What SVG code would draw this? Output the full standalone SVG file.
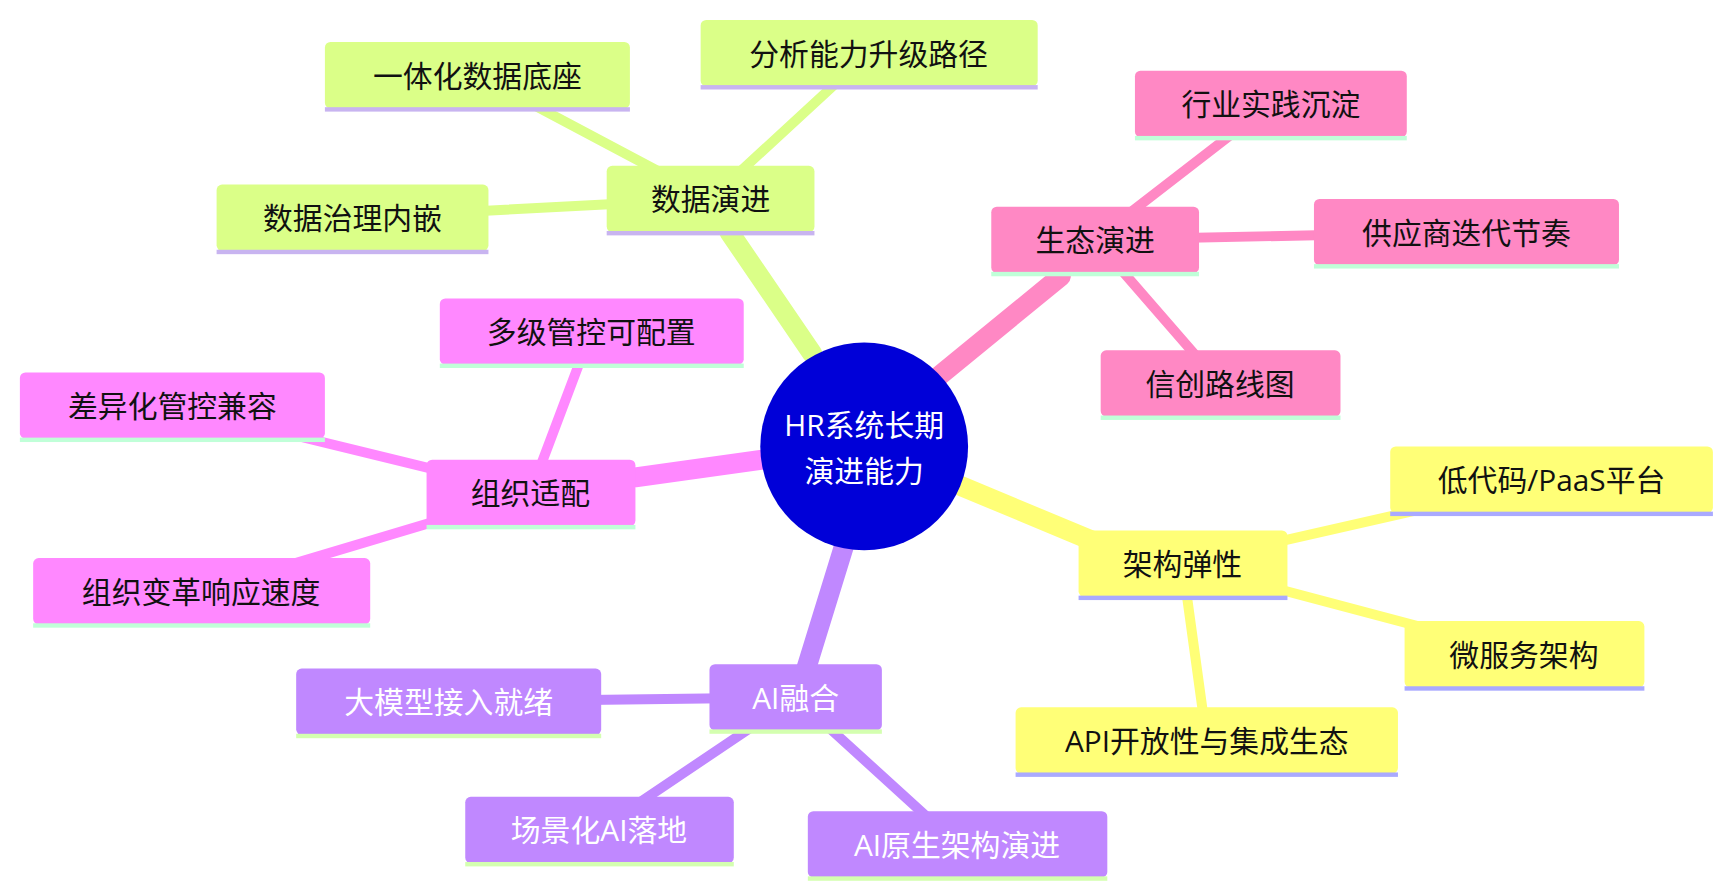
<svg xmlns="http://www.w3.org/2000/svg" width="1724" height="894" viewBox="0 0 1724 894">
<style>
text{font-family:"Open Sans","Noto Sans CJK SC",sans-serif;font-size:27px;text-anchor:middle;dominant-baseline:central;fill:#111}
.w{fill:#fff}
.g{fill:#dbff88}.p{fill:#ff88c4}.y{fill:#ffff77}.v{fill:#c088ff}.m{fill:#ff88ff}
</style>
<rect width="1724" height="894" fill="#fff"/>
<g transform="scale(1.1051)">
<g id="connectors" fill="none" stroke-linecap="round">
<g stroke="#dbff88"><path d="M735 320L660 210" stroke-width="18"/><path d="M643 180L432 68M643 180L786 48M643 180L319 197" stroke-width="9"/></g>
<g stroke="#ff88c4"><path d="M850 340L960 250" stroke-width="18"/><path d="M991 217L1150 94M991 217L1327 210M991 217L1104 347" stroke-width="9"/></g>
<g stroke="#ffff77"><path d="M870 440L990 490" stroke-width="18"/><path d="M1070 510L1404 434M1070 510L1379 592M1070 510L1092 670" stroke-width="9"/></g>
<g stroke="#c088ff"><path d="M765 490L728 610" stroke-width="18"/><path d="M720 631L406 635M720 631L542 751M720 631L866 764" stroke-width="9"/></g>
<g stroke="#ff88ff"><path d="M690 416L575 432" stroke-width="18"/><path d="M480 446L535 300M480 446L156 367M480 446L182 535" stroke-width="9"/></g>
</g>
<g id="center"><circle cx="782" cy="404" r="94" fill="#0000d8"/><text class="w" x="782" y="384" font-size="25">HR系统长期</text><text class="w" x="782" y="426" font-size="25">演进能力</text></g>
<g id="n1"><rect class="g" x="549" y="150" width="188" height="60" rx="5"/><rect x="549" y="209" width="188" height="4" fill="#c8b4f0"/><text x="643" y="180">数据演进</text></g>
<g id="n11"><rect class="g" x="294" y="38" width="276" height="60" rx="5"/><rect x="294" y="97" width="276" height="4" fill="#c8b4f0"/><text x="432" y="68">一体化数据底座</text></g>
<g id="n12"><rect class="g" x="634" y="18" width="305" height="60" rx="5"/><rect x="634" y="77" width="305" height="4" fill="#c8b4f0"/><text x="786" y="48">分析能力升级路径</text></g>
<g id="n13"><rect class="g" x="196" y="167" width="246" height="60" rx="5"/><rect x="196" y="226" width="246" height="4" fill="#c8b4f0"/><text x="319" y="197">数据治理内嵌</text></g>
<g id="n2"><rect class="p" x="897" y="187" width="188" height="60" rx="5"/><rect x="897" y="246" width="188" height="4" fill="#c0ffd8"/><text x="991" y="217">生态演进</text></g>
<g id="n21"><rect class="p" x="1027" y="64" width="246" height="60" rx="5"/><rect x="1027" y="123" width="246" height="4" fill="#c0ffd8"/><text x="1150" y="94">行业实践沉淀</text></g>
<g id="n22"><rect class="p" x="1189" y="180" width="276" height="60" rx="5"/><rect x="1189" y="239" width="276" height="4" fill="#c0ffd8"/><text x="1327" y="210">供应商迭代节奏</text></g>
<g id="n23"><rect class="p" x="996" y="317" width="217" height="60" rx="5"/><rect x="996" y="376" width="217" height="4" fill="#c0ffd8"/><text x="1104" y="347">信创路线图</text></g>
<g id="n3"><rect class="y" x="976" y="480" width="189" height="60" rx="5"/><rect x="976" y="539" width="189" height="4" fill="#aaaaff"/><text x="1070" y="510">架构弹性</text></g>
<g id="n31"><rect class="y" x="1258" y="404" width="292" height="60" rx="5"/><rect x="1258" y="463" width="292" height="4" fill="#aaaaff"/><text x="1404" y="434">低代码/PaaS平台</text></g>
<g id="n32"><rect class="y" x="1271" y="562" width="217" height="60" rx="5"/><rect x="1271" y="621" width="217" height="4" fill="#aaaaff"/><text x="1379" y="592">微服务架构</text></g>
<g id="n33"><rect class="y" x="919" y="640" width="346" height="60" rx="5"/><rect x="919" y="699" width="346" height="4" fill="#aaaaff"/><text x="1092" y="670">API开放性与集成生态</text></g>
<g id="n4"><rect class="v" x="642" y="601" width="156" height="60" rx="5"/><rect x="642" y="660" width="156" height="4" fill="#d4ffb0"/><text class="w" x="720" y="631">AI融合</text></g>
<g id="n41"><rect class="v" x="268" y="605" width="276" height="60" rx="5"/><rect x="268" y="664" width="276" height="4" fill="#d4ffb0"/><text class="w" x="406" y="635">大模型接入就绪</text></g>
<g id="n42"><rect class="v" x="421" y="721" width="243" height="60" rx="5"/><rect x="421" y="780" width="243" height="4" fill="#d4ffb0"/><text class="w" x="542" y="751">场景化AI落地</text></g>
<g id="n43"><rect class="v" x="731" y="734" width="271" height="60" rx="5"/><rect x="731" y="793" width="271" height="4" fill="#d4ffb0"/><text class="w" x="866" y="764">AI原生架构演进</text></g>
<g id="n5"><rect class="m" x="386" y="416" width="189" height="60" rx="5"/><rect x="386" y="475" width="189" height="4" fill="#c0ffd8"/><text x="480" y="446">组织适配</text></g>
<g id="n51"><rect class="m" x="398" y="270" width="275" height="60" rx="5"/><rect x="398" y="329" width="275" height="4" fill="#c0ffd8"/><text x="535" y="300">多级管控可配置</text></g>
<g id="n52"><rect class="m" x="18" y="337" width="276" height="60" rx="5"/><rect x="18" y="396" width="276" height="4" fill="#c0ffd8"/><text x="156" y="367">差异化管控兼容</text></g>
<g id="n53"><rect class="m" x="30" y="505" width="305" height="60" rx="5"/><rect x="30" y="564" width="305" height="4" fill="#c0ffd8"/><text x="182" y="535">组织变革响应速度</text></g>
</g>
</svg>
